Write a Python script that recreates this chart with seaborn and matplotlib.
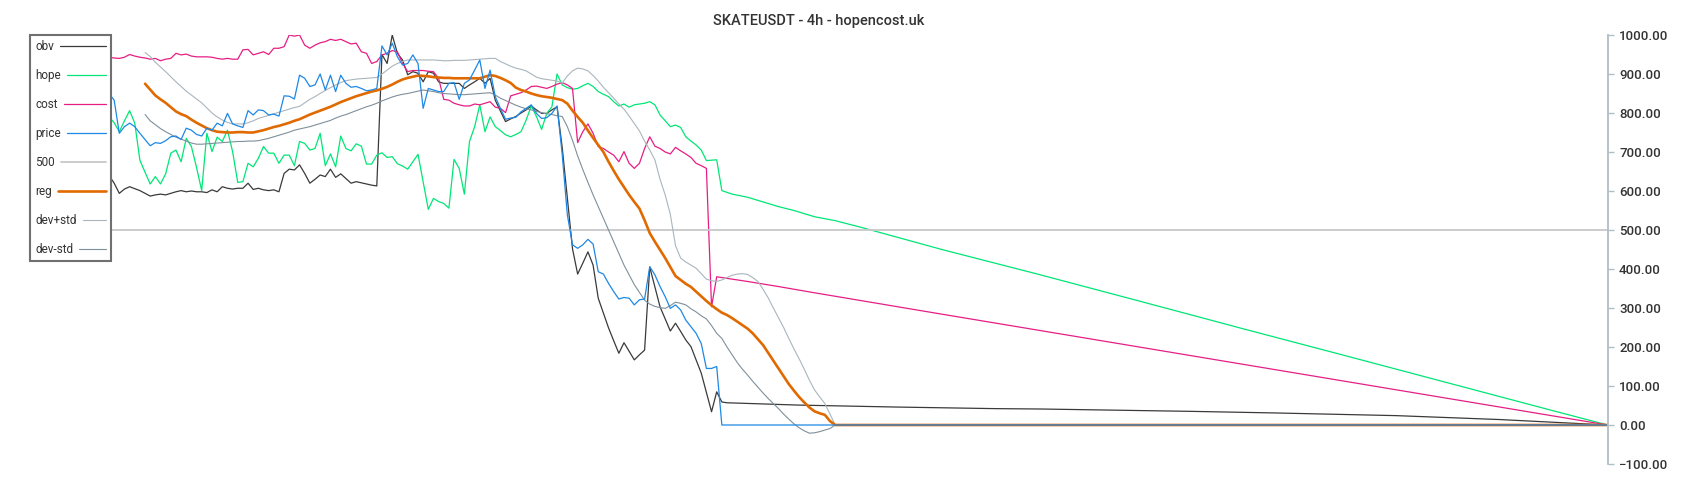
import matplotlib
matplotlib.use("Agg")
import matplotlib.pyplot as plt
from matplotlib.ticker import StrMethodFormatter
from matplotlib.legend_handler import HandlerLine2D
import seaborn as sns
import pandas as pd

title = "SKATEUSDT - 4h - hopencost.uk"

# values per 4h candle; dense blocks start at the given candle, tails are sparse readings
obv_start = 0
obv = [640, 620, 594, 605, 611, 606, 601, 594, 587, 590,
       592, 590, 594, 598, 601, 598, 600, 598, 598, 596,
       603, 598, 611, 607, 605, 607, 607, 620, 604, 607,
       603, 601, 603, 598, 645, 656, 654, 667, 645, 620,
       630, 641, 637, 656, 635, 644, 632, 620, 624, 621,
       618, 615, 613, 950, 927, 1000, 953, 936, 898, 906,
       902, 880, 906, 902, 880, 876, 876, 876, 876, 863,
       872, 880, 889, 876, 889, 833, 805, 778, 785, 791,
       800, 808, 818, 808, 799, 799, 808, 816, 712, 582,
       452, 387, 415, 444, 410, 325, 287, 249, 216, 184,
       211, 189, 167, 180, 192, 405, 354, 303, 272, 241,
       261, 240, 218, 201, 167, 133, 84, 34, 85, 59]
obv_tail_x = [120, 134, 145, 153, 162, 172, 181, 191, 200, 210, 218, 226, 250, 270, 291]
obv_tail = [57, 51, 48, 46, 44, 42, 41, 39, 37, 35, 33, 31, 24, 14, 0]

hope_start = 0
hope = [790, 775, 752, 780, 806, 774, 679, 648, 618, 637,
        618, 644, 697, 705, 675, 735, 714, 660, 601, 748,
        701, 738, 727, 756, 701, 622, 624, 671, 662, 684,
        714, 697, 697, 671, 692, 692, 665, 727, 722, 705,
        709, 748, 665, 695, 662, 741, 709, 703, 721, 715,
        669, 669, 692, 698, 686, 688, 670, 664, 656, 675,
        694, 624, 553, 581, 573, 568, 556, 681, 658, 592,
        727, 765, 821, 752, 790, 765, 755, 744, 739, 745,
        752, 782, 818, 791, 758, 799, 816, 900, 872, 865,
        861, 863, 870, 876, 868, 855, 848, 842, 829, 818,
        823, 815, 821, 823, 825, 829, 821, 795, 780, 765,
        769, 763, 739, 728, 718, 705, 678, 679, 680, 601]
hope_tail_x = [121, 124, 128, 130, 133, 137, 141, 146, 162, 180, 200, 221, 240, 260, 280, 291]
hope_tail = [592, 584, 568, 560, 550, 534, 524, 507, 449, 388, 318, 244, 178, 108, 38, 0]

cost_start = 0
cost = [943, 941, 940, 943, 950, 946, 943, 941, 938, 940,
        934, 938, 940, 953, 949, 951, 946, 944, 944, 944,
        943, 940, 938, 940, 938, 938, 962, 963, 949, 953,
        957, 950, 966, 966, 970, 1000, 997, 1000, 974, 966,
        974, 980, 983, 989, 986, 989, 983, 977, 979, 957,
        953, 927, 932, 949, 953, 960, 957, 927, 906, 909,
        909, 909, 907, 906, 889, 835, 833, 825, 821, 818,
        818, 823, 821, 825, 829, 815, 812, 801, 844, 848,
        852, 859, 868, 869, 866, 863, 868, 874, 878, 872,
        863, 724, 752, 772, 748, 714, 709, 700, 692, 675,
        701, 671, 658, 671, 709, 739, 715, 709, 700, 695,
        712, 703, 695, 686, 671, 665, 658, 303, 380]
cost_tail_x = [124, 130, 137, 146, 160, 180, 200, 221, 240, 260, 280, 291]
cost_tail = [368, 355, 339, 319, 288, 244, 200, 154, 112, 68, 24, 0]

price_start = 0
price = [850, 833, 748, 765, 774, 765, 748, 732, 716, 724,
         722, 729, 739, 741, 732, 761, 756, 745, 741, 761,
         756, 774, 767, 799, 772, 767, 763, 806, 795, 808,
         806, 795, 797, 792, 844, 843, 836, 897, 889, 868,
         872, 900, 859, 897, 855, 897, 876, 866, 868, 863,
         857, 859, 863, 972, 949, 979, 944, 923, 927, 949,
         927, 812, 863, 859, 855, 855, 876, 878, 835, 876,
         885, 910, 936, 863, 910, 842, 812, 784, 787, 789,
         803, 812, 821, 799, 786, 788, 799, 818, 694, 539,
         462, 453, 462, 476, 464, 393, 387, 363, 342, 323,
         327, 325, 308, 321, 323, 406, 385, 355, 329, 299,
         308, 295, 269, 252, 235, 209, 145, 145, 150, 0]
price_tail_x = [291]
price_tail = [0]

level_x = [0, 291]
level = [500, 500]

reg_start = 7
reg = [875, 860, 845, 835, 826, 815, 804, 797, 792, 783,
       775, 768, 761, 756, 752, 751, 750, 750, 751, 751,
       750, 750, 753, 756, 760, 764, 767, 771, 775, 780,
       784, 790, 796, 801, 806, 811, 816, 822, 828, 833,
       838, 843, 847, 851, 855, 858, 862, 867, 873, 880,
       886, 890, 893, 896, 895, 894, 892, 891, 890, 890,
       889, 889, 889, 889, 889, 889, 893, 897, 895, 890,
       884, 877, 865, 859, 855, 850, 846, 843, 841, 839,
       836, 833, 824, 806, 790, 775, 755, 736, 718, 700,
       675, 652, 630, 610, 590, 572, 555, 525, 492, 470,
       449, 428, 405, 382, 372, 362, 354, 342, 330, 318,
       307, 297, 288, 282, 274, 265, 256, 247, 235, 220,
       205, 185, 165, 145, 125, 105, 88, 72, 58, 45,
       35, 30, 26, 10, 0]
reg_tail_x = [291]
reg_tail = [0]

dev_hi_start = 7
dev_hi = [955, 945, 930, 918, 906, 893, 880, 868, 856, 846,
          836, 826, 813, 800, 790, 782, 776, 772, 772, 772,
          775, 780, 786, 790, 794, 798, 802, 806, 810, 814,
          817, 826, 835, 842, 850, 858, 865, 872, 878, 883,
          885, 887, 888, 889, 890, 891, 900, 910, 920, 927,
          932, 936, 936, 936, 936, 936, 936, 935, 934, 934,
          935, 935, 935, 936, 937, 938, 939, 940, 940, 932,
          926, 920, 915, 912, 908, 900, 892, 888, 886, 884,
          882, 877, 895, 908, 915, 913, 908, 896, 882, 866,
          852, 838, 823, 810, 792, 773, 754, 728, 705, 680,
          630, 590, 540, 460, 428, 418, 410, 402, 388, 374,
          370, 368, 372, 378, 384, 387, 388, 386, 378, 368,
          348, 326, 300, 275, 250, 222, 195, 170, 143, 115,
          90, 72, 55, 28, 0]

dev_lo_start = 7
dev_lo = [796, 780, 770, 760, 752, 745, 738, 733, 728, 723,
          720, 720, 721, 722, 723, 724, 725, 726, 727, 727,
          728, 728, 729, 732, 735, 739, 743, 747, 751, 756,
          759, 762, 765, 769, 773, 777, 781, 787, 792, 796,
          801, 806, 811, 816, 820, 825, 831, 836, 841, 845,
          848, 850, 853, 856, 859, 857, 855, 852, 850, 849,
          848, 847, 847, 848, 849, 850, 851, 852, 846, 838,
          832, 826, 820, 815, 811, 808, 804, 801, 798, 796,
          793, 791, 765, 730, 690, 655, 622, 590, 560, 530,
          500, 470, 440, 410, 385, 360, 340, 320, 310, 304,
          301, 299, 306, 315, 312, 308, 298, 290, 280, 272,
          255, 235, 222, 200, 180, 160, 143, 128, 112, 97,
          82, 68, 55, 42, 28, 15, 3, -7, -15, -21,
          -20, -17, -13, -9, 0]


def frame(start, vals, tail_x=(), tail=()):
    x = list(range(start, start + len(vals))) + list(tail_x)
    return pd.DataFrame({"candle": x, "value": list(vals) + list(tail)})


series = [
    ("obv", frame(obv_start, obv, obv_tail_x, obv_tail), "#3a3a3a", 0.9, 2),
    ("hope", frame(hope_start, hope, hope_tail_x, hope_tail), "#00e676", 0.9, 2),
    ("cost", frame(cost_start, cost, cost_tail_x, cost_tail), "#e61e84", 0.9, 2),
    ("price", frame(price_start, price, price_tail_x, price_tail), "#1e88e5", 0.9, 2.3),
    ("500", pd.DataFrame({"candle": level_x, "value": level}), "#c8c8c8", 1.3, 2),
    ("reg", frame(reg_start, reg, reg_tail_x, reg_tail), "#e06a00", 1.9, 2.1),
    ("dev+std", frame(dev_hi_start, dev_hi), "#a9b5bd", 0.8, 2),
    ("dev-std", frame(dev_lo_start, dev_lo), "#7f909b", 0.8, 2),
]


class EndAligned(HandlerLine2D):
    # legend line that stretches right so every sample ends at the same x
    def __init__(self, extra, **kw):
        super().__init__(**kw)
        self.extra = extra

    def create_artists(self, legend, orig_handle, xdescent, ydescent,
                       width, height, fontsize, trans):
        return super().create_artists(legend, orig_handle, xdescent, ydescent,
                                      width + self.extra, height, fontsize, trans)


sns.set_style("white")
plt.rcParams["font.family"] = ["Roboto", "DejaVu Sans"]

fig = plt.figure(figsize=(17, 5), dpi=100)
ax = fig.add_axes([30 / 1700, 36 / 500, 1578 / 1700, 429 / 500])

for name, df, color, lw, z in series:
    sns.lineplot(data=df, x="candle", y="value", ax=ax, color=color,
                 linewidth=lw, label=name, estimator=None, sort=False, zorder=z)

ax.set_xlim(-15.34, 291.07)
ax.set_ylim(-100, 1000)
ax.set_yticks(range(-100, 1001, 100))
ax.yaxis.set_major_formatter(StrMethodFormatter("{x:.2f}"))
ax.yaxis.tick_right()
ax.set_xticks([])
ax.set_xlabel("")
ax.set_ylabel("")
for s in ["left", "top", "bottom"]:
    ax.spines[s].set_visible(False)
ax.spines["right"].set_color("#b0bec5")
ax.spines["right"].set_linewidth(1.3)
ax.tick_params(axis="y", direction="out", length=4, width=1, color="#b0bec5",
               labelcolor="#333333", labelsize=9.5, pad=4)
for lbl in ax.get_yticklabels():
    lbl.set_fontweight("medium")

# measure label widths so the legend lines can all end at one x
legend_size = 8.5
renderer = fig.canvas.get_renderer()
widths = {}
for name, *_ in series:
    t = fig.text(0, 0, name, fontsize=legend_size)
    widths[name] = t.get_window_extent(renderer).width
    t.remove()
widest = max(widths.values())

handles, labels = ax.get_legend_handles_labels()
handler_map = {h: EndAligned((widest - widths[l]) * 72 / fig.dpi) for h, l in zip(handles, labels)}

leg = ax.legend(handles, labels, handler_map=handler_map,
                loc="upper left", bbox_to_anchor=(0, 1), borderaxespad=0,
                markerfirst=False, fancybox=False, framealpha=1, edgecolor="#707070",
                fontsize=legend_size, labelspacing=1.35, handlelength=1.95, handletextpad=0.5,
                borderpad=0.45)
leg.get_frame().set_linewidth(1.5)
for t in leg.get_texts():
    t.set_color("#333333")
try:
    for col in leg._legend_handle_box.get_children():
        col.align = "left"
except AttributeError:
    pass

fig.text(819 / 1700, 1 - 20.5 / 500, title, ha="center", va="center",
         fontsize=10.5, fontweight="medium", color="#333333")

fig.savefig("out.png", dpi=100)
